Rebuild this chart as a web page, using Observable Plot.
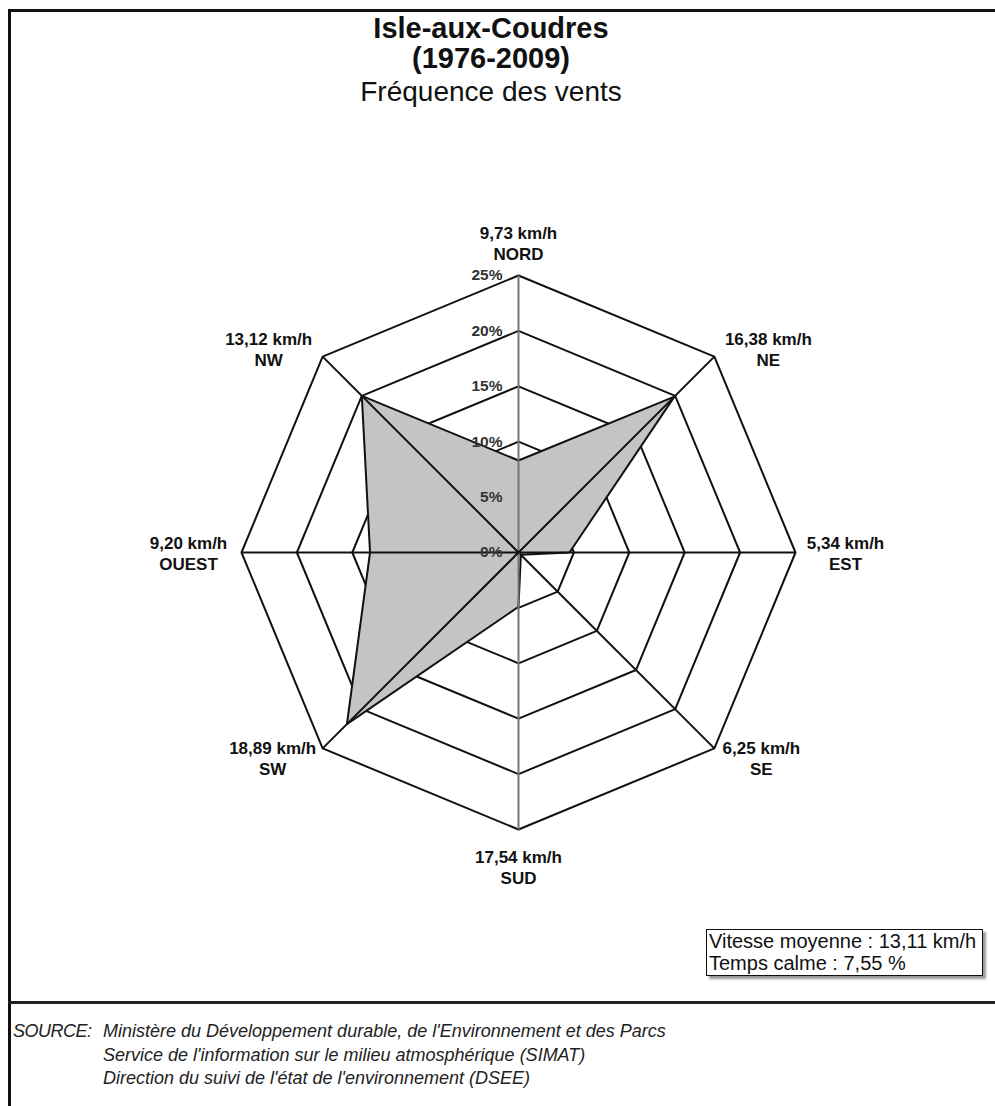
<!DOCTYPE html>
<html>
<head>
<meta charset="utf-8">
<script src="https://cdn.jsdelivr.net/npm/d3@7"></script>
<script src="https://cdn.jsdelivr.net/npm/@observablehq/plot@0.6"></script>
<style>
  html, body { margin: 0; padding: 0; overflow: hidden; background: white; }
  #page { position: relative; width: 995px; height: 1106px; font-family: "Liberation Sans", Arial, Helvetica, sans-serif; color: #111; }
  .abs { position: absolute; white-space: nowrap; line-height: 1; }
  #frame { position: absolute; left: 8px; top: 9px; width: 990px; height: 1100px; border-left: 3px solid #111; border-top: 3px solid #111; }
  #sep { position: absolute; left: 8px; top: 1001px; width: 990px; height: 3px; background: #222; }
  .title { left: 0; width: 982px; text-align: center; }
  #chart { position: absolute; left: 0; top: 120px; }
  #box { position: absolute; left: 706px; top: 929px; width: 277px; height: 47px; box-sizing: border-box;
         border: 1.5px solid #111; box-shadow: 3px 3px 2px #999; background: white;
         font-size: 20px; line-height: 22px; padding: 0 0 0 2px; white-space: nowrap; }
  .src { font-style: italic; font-size: 18px; color: #222; }
</style>
</head>
<body>
<div id="page">
  <div id="frame"></div>
  <div id="sep"></div>
  <div class="abs title" style="top:13.5px;font-size:29px;font-weight:bold;">Isle-aux-Coudres</div>
  <div class="abs title" style="top:43.5px;font-size:29px;font-weight:bold;">(1976-2009)</div>
  <div class="abs title" style="top:78px;font-size:28px;">Fréquence des vents</div>
  <div id="chart"></div>
  <div id="box"><div id="boxl1"></div><div id="boxl2"></div></div>
  <div class="abs src" style="left:13px;top:1022px;letter-spacing:-0.5px;">SOURCE:</div>
  <div class="abs src" id="s1" style="left:103px;top:1022px;"></div>
  <div class="abs src" id="s2" style="left:103px;top:1045.5px;"></div>
  <div class="abs src" id="s3" style="left:103px;top:1069px;"></div>
</div>
<script>
// ---- data ----
const directions = ["NORD", "NE", "EST", "SE", "SUD", "SW", "OUEST", "NW"];
const angles = [0, 45, 90, 135, 180, 225, 270, 315];
const speeds = ["9,73 km/h", "16,38 km/h", "5,34 km/h", "6,25 km/h", "17,54 km/h", "18,89 km/h", "9,20 km/h", "13,12 km/h"];
const frequencies = [8.3, 19.9, 4.6, 0.3, 4.9, 21.9, 13.4, 20.0];
const levels = [5, 10, 15, 20, 25];
const tickLabels = ["0%", "5%", "10%", "15%", "20%", "25%"];
const tickValues = [0, 5, 10, 15, 20, 25];
const boxLines = ["Vitesse moyenne : 13,11 km/h", "Temps calme : 7,55 %"];
const sourceLines = [
  "Ministère du Développement durable, de l'Environnement et des Parcs",
  "Service de l'information sur le milieu atmosphérique (SIMAT)",
  "Direction du suivi de l'état de l'environnement (DSEE)"
];

document.getElementById("boxl1").textContent = boxLines[0];
document.getElementById("boxl2").textContent = boxLines[1];
document.getElementById("s1").textContent = sourceLines[0];
document.getElementById("s2").textContent = sourceLines[1];
document.getElementById("s3").textContent = sourceLines[2];

// ---- layout (pixels) ----
const W = 995, H = 870;
const cx = 518, cy = 432;        // centre of the rose inside the svg
const k = 277 / 25;              // pixels per percent
const rad = a => a * Math.PI / 180;
const px = (r, a) => r * Math.sin(rad(a));
const py = (r, a) => r * Math.cos(rad(a));

// label offsets from the 25% corner, in pixels
const labelOffset = {
  NORD: [0, -33], NE: [54, -8], EST: [50, 0], SE: [47, 9],
  SUD: [0, 37], SW: [-50, 9], OUEST: [-53, 0], NW: [-54, -8]
};

// ---- derived tables ----
const ringPts = levels.flatMap(l => [...angles, angles[0]].map(a => ({level: l, x: px(l, a), y: py(l, a)})));
const polyPts = [...directions.keys(), 0].map(i => ({x: px(frequencies[i], angles[i]), y: py(frequencies[i], angles[i])}));
const spokes = directions.map((d, i) => ({dir: d, x2: px(25, angles[i]), y2: py(25, angles[i]), a: angles[i]}));
const ticks = tickValues.map((v, i) => ({v, label: tickLabels[i]}));

const spokeColor = a => (a === 0 || a === 180) ? "#777" : "#111";

const font = "Liberation Sans, Arial, Helvetica, sans-serif";

const labelMarks = directions.map((d, i) => Plot.text([{dir: d, text: speeds[i] + "\n" + d}], {
  x: () => px(25, angles[i]), y: () => py(25, angles[i]), text: "text",
  dx: labelOffset[d][0], dy: labelOffset[d][1],
  textAnchor: "middle", lineAnchor: "middle", lineHeight: 1.25,
  fontSize: 17, fontWeight: "bold", fill: "#111", fontFamily: font
}));

const chart = Plot.plot({
  width: W, height: H, margin: 0,
  x: {domain: [-cx / k, (W - cx) / k], axis: null},
  y: {domain: [-(H - cy) / k, cy / k], axis: null},
  style: {background: "transparent", fontFamily: font, overflow: "visible"},
  marks: [
    Plot.line(ringPts, {x: "x", y: "y", z: "level", stroke: "#111", strokeWidth: 2, strokeLinejoin: "miter"}),
    Plot.line(polyPts, {x: "x", y: "y", fill: "#c4c4c4", stroke: "#111", strokeWidth: 2, strokeLinejoin: "miter"}),
    Plot.link(spokes, {x1: () => 0, y1: () => 0, x2: "x2", y2: "y2", stroke: d => spokeColor(d.a), strokeWidth: 2}),
    Plot.text(ticks, {x: () => 0, y: "v", text: "label", textAnchor: "end", dx: -16,
      fontSize: 15.5, fontWeight: "bold", fill: "#333", fontFamily: font}),
    ...labelMarks
  ]
});
document.getElementById("chart").appendChild(chart);
</script>
</body>
</html>
